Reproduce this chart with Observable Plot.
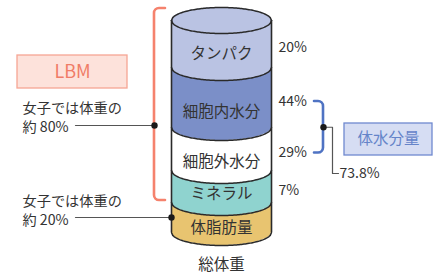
<!DOCTYPE html>
<html><head><meta charset="utf-8">
<script src="https://cdn.jsdelivr.net/npm/d3@7"></script>
<script src="https://cdn.jsdelivr.net/npm/@observablehq/plot@0.6"></script>
<style>
html,body{margin:0;padding:0;background:#fff;}
#chart svg{display:block;}
</style></head><body><div id="chart"></div>
<script>
// ---- data (bottom to top) ----
const components = ["体脂肪量", "ミネラル", "細胞外水分", "細胞内水分", "タンパク"];
const stackUnits = [30, 32, 43, 60, 47];           // schematic layer sizes as drawn
const shareLabels = [null, "7%", "29%", "44%", "20%"];
const waterTotalLabel = "73.8%";
const waterTitle = "体水分量";
const lbmTitle = "LBM";
const lbmNote = ["女子では体重の", "約 80%"];
const fatNote = ["女子では体重の", "約 20%"];
const baseLabel = "総体重";

// ---- styles ----
const palette = ["#e8c470", "#8fd3cf", "#ffffff", "#7b8fc8", "#bac3e3"];
const ink = "#2a2a2a", textInk = "#333333";
const salmon = "#f5826d", blue = "#4f73c3";
const font = "'Noto Sans CJK JP', 'Noto Sans', sans-serif";

const W = 439, H = 273;
const ry = 13; // ellipse half-height in y units

let acc = 0;
const segs = components.map((name, i) => {
  const b = acc; acc += stackUnits[i];
  return {name, b, t: acc, mid: (b + acc) / 2, share: shareLabels[i]};
});
const total = acc;
const xs = d3.range(0, 81).map(i => -1 + i / 40);
const arc = x => ry * Math.sqrt(Math.max(0, 1 - x * x));
const areaPts = segs.flatMap(s => xs.map(x => ({name: s.name, x, y1: s.b - arc(x), y2: s.t - arc(x)})));
const topFace = xs.map(x => ({name: components[components.length - 1], x, y1: total - arc(x), y2: total + arc(x)}));
const boundaries = [0, ...segs.map(s => s.t)];
const arcLines = boundaries.flatMap(b => xs.map(x => ({b, x, y: b - arc(x)})));
const topLoop = [...xs.map(x => ({x, y: total + arc(x)}))];

// annotation anchors (in chart units)
const waterSegs = segs.filter(s => s.name === "細胞内水分" || s.name === "細胞外水分");
const labelY = s => s.mid - 4;
const wTop = labelY(waterSegs[1]), wBot = labelY(waterSegs[0]), wMid = (wTop + wBot) / 2;
const fatSeg = segs[0];
const lbmDotY = 107;
const nameDy = {"体脂肪量": 0, "ミネラル": 3, "細胞外水分": -3, "細胞内水分": -4, "タンパク": 0};

function brackets(index, scales) {
  const {x, y} = scales;
  const g = d3.create("svg:g").attr("fill", "none").attr("stroke-width", 2.6).attr("stroke-linecap", "round");
  // LBM bracket
  const xl = x(-1.34), yt = y(total + ry - 1), yb = y(segs[1].b + 2), w = 11, r = 5;
  const p = d3.path();
  p.moveTo(xl + w, yt); p.arcTo(xl, yt, xl, yb, r); p.arcTo(xl, yb, xl + w, yb, r); p.lineTo(xl + w, yb);
  g.append("path").attr("d", p.toString()).attr("stroke", salmon);
  // water bracket
  const xb = x(2.04), bt = y(wTop), bb = y(wBot), w2 = 9;
  const q = d3.path();
  q.moveTo(xb - w2, bt); q.arcTo(xb, bt, xb, bb, r); q.arcTo(xb, bb, xb - w2, bb, r); q.lineTo(xb - w2, bb);
  g.append("path").attr("d", q.toString()).attr("stroke", blue);
  return g.node();
}

const chart = Plot.plot({
  width: W, height: H,
  marginTop: 0, marginRight: 0, marginBottom: 0, marginLeft: 0,
  x: {domain: [-221 / 50, (W - 221) / 50], axis: null},
  y: {domain: [-(H - 232), 232], axis: null},
  color: {domain: components, range: palette},
  style: {fontFamily: font, background: "#fff"},
  marks: [
    // cylinder layers
    Plot.areaY(areaPts, {x: "x", y1: "y1", y2: "y2", fill: "name", z: "name"}),
    Plot.areaY(topFace, {x: "x", y1: "y1", y2: "y2", fill: "name"}),
    Plot.ruleX([-1, 1], {x: d => d, y1: () => 0, y2: () => total, stroke: ink, strokeWidth: 1.6}),
    Plot.line(arcLines, {x: "x", y: "y", z: "b", stroke: ink, strokeWidth: 1.5}),
    Plot.line(topLoop, {x: "x", y: "y", stroke: ink, strokeWidth: 1.5}),
    // layer names
    Plot.text(segs, {x: () => 0, y: s => s.mid - ry * 0.8 + nameDy[s.name], text: "name", fontSize: 15.5, fill: textInk}),
    // shares
    Plot.text(segs.filter(s => s.share), {x: () => 1.14, y: labelY, text: "share", textAnchor: "start", fontSize: 14, fill: textInk}),
    Plot.text([baseLabel], {x: () => 0, y: () => -33, text: d => d, fontSize: 15.5, fill: textInk}),
    // brackets
    brackets,
    // LBM box
    Plot.rect([lbmTitle], {x1: () => -4.08, x2: () => -1.88, y1: () => 144, y2: () => 177, fill: "#fde2db", stroke: "#f6a594", strokeWidth: 1.3}),
    Plot.text([lbmTitle], {x: () => -2.98, y: () => 160.5, text: d => d, fontSize: 18, fill: "#f07c67"}),
    // LBM note
    Plot.text([lbmNote.join("\n")], {x: () => -3.98, y: () => lbmDotY + 9, text: d => d, textAnchor: "start", lineHeight: 1.3, fontSize: 14.2, fill: textInk}),
    Plot.line([{x: -2.92, y: lbmDotY}, {x: -1.34, y: lbmDotY}], {x: "x", y: "y", stroke: "#555", strokeWidth: 1.2}),
    Plot.dot([{x: -1.34, y: lbmDotY}], {x: "x", y: "y", r: 3.2, fill: "#1a1a1a"}),
    // fat note
    Plot.text([fatNote.join("\n")], {x: () => -3.98, y: () => fatSeg.mid + 8, text: d => d, textAnchor: "start", lineHeight: 1.3, fontSize: 14.2, fill: textInk}),
    Plot.line([{x: -2.92, y: fatSeg.mid}, {x: -1, y: fatSeg.mid}], {x: "x", y: "y", stroke: "#555", strokeWidth: 1.2}),
    Plot.dot([{x: -1, y: fatSeg.mid}], {x: "x", y: "y", r: 3.2, fill: "#1a1a1a"}),
    // water total
    Plot.line([{x: 2.04, y: wMid}, {x: 2.22, y: wMid}, {x: 2.22, y: 59}, {x: 2.34, y: 59}], {x: "x", y: "y", stroke: "#555", strokeWidth: 1.2}),
    Plot.dot([{x: 2.04, y: wMid}], {x: "x", y: "y", r: 3.2, fill: "#1a1a1a"}),
    Plot.text([waterTotalLabel], {x: () => 2.36, y: () => 59, text: d => d, textAnchor: "start", fontSize: 14, fill: textInk}),
    Plot.rect([waterTitle], {x1: () => 2.46, x2: () => 4.22, y1: () => 77, y2: () => 109, fill: "#d6ddf3", stroke: "#6f89cf", strokeWidth: 1.3}),
    Plot.text([waterTitle], {x: () => 3.34, y: () => 93, text: d => d, fontSize: 15.5, fill: "#6584c9"})
  ]
});
document.getElementById("chart").append(chart);
</script>
</body></html>
